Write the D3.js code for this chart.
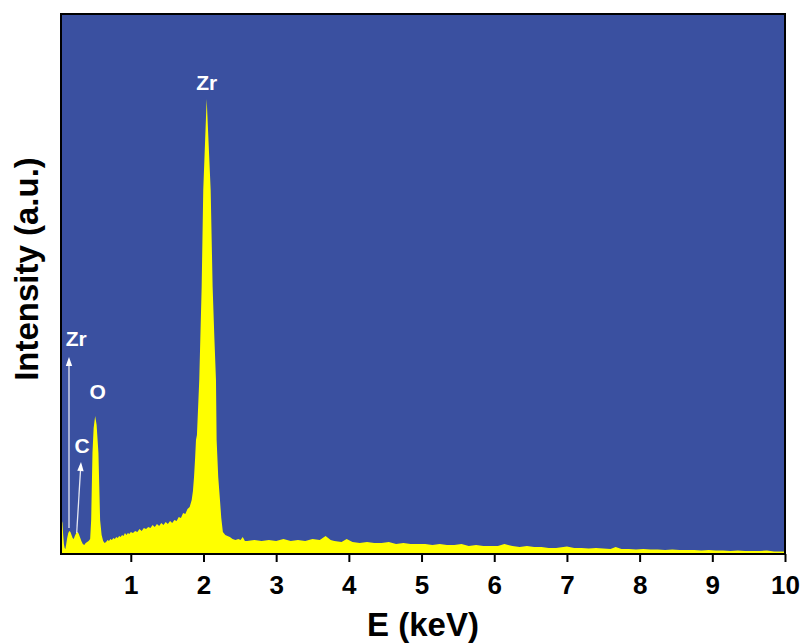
<!DOCTYPE html>
<html>
<head>
<meta charset="utf-8">
<script src="https://cdn.jsdelivr.net/npm/d3@7"></script>
<style>
  html, body { margin: 0; padding: 0; background: #ffffff; }
  svg { display: block; font-family: "Liberation Sans", Arial, sans-serif; }
</style>
</head>
<body>
<svg id="chart" width="804" height="644"></svg>
<script>
// ---- data ----
const energyKeV = [
  0.040,0.050,0.060,0.070,0.080,0.090,0.100,0.110,0.125,0.140,0.155,0.170,0.185,0.200,0.215,0.230,0.250,0.270,0.285,0.300,
  0.320,0.340,0.360,0.380,0.400,0.420,0.441,0.455,0.473,0.489,0.510,0.530,0.555,0.578,0.599,0.620,0.640,0.660,0.680,0.700,
  0.720,0.740,0.760,0.780,0.800,0.820,0.840,0.860,0.880,0.900,0.920,0.940,0.960,0.980,1.000,1.030,1.060,1.090,1.120,1.150,
  1.180,1.210,1.240,1.270,1.300,1.330,1.360,1.390,1.420,1.450,1.480,1.510,1.540,1.570,1.600,1.630,1.660,1.690,1.720,1.750,
  1.780,1.810,1.838,1.855,1.870,1.885,1.897,1.910,1.942,1.975,1.997,2.044,2.099,2.126,2.150,2.172,2.181,2.203,2.227,2.245,
  2.267,2.300,2.330,2.363,2.400,2.440,2.480,2.510,2.540,2.570,2.600,2.700,2.800,2.900,3.000,3.100,3.200,3.300,3.400,3.500,
  3.600,3.680,3.750,3.800,3.900,3.970,4.050,4.150,4.250,4.350,4.450,4.550,4.650,4.750,4.850,4.950,5.050,5.150,5.250,5.350,
  5.450,5.550,5.650,5.750,5.850,5.950,6.050,6.140,6.250,6.350,6.450,6.550,6.650,6.750,6.850,6.950,7.000,7.100,7.200,7.300,
  7.400,7.500,7.600,7.670,7.750,7.850,7.950,8.050,8.150,8.250,8.350,8.450,8.550,8.650,8.750,8.850,8.950,9.050,9.150,9.250,
  9.350,9.450,9.550,9.650,9.750,9.850,9.950,10.000
];
const intensity = [
  28,33,30,18,9,5,4,8,15,20,22,21,18,15,14,17,20,21,19,16,
  12,9,8,10,11,12,14,33,100,125,137,128,100,33,18,12,10,11,13,12,
  14,13,15,14,16,15,17,16,18,17,20,18,20,19,21,20,22,21,24,22,
  25,24,26,25,28,26,29,27,30,28,31,29,32,30,33,32,36,35,40,39,
  44,46,53,62,76,95,113,118,173,266,363,454,363,266,215,173,113,76,53,35,
  21,18,17,16,14,13,14,13,16,12,12,13,12,13,12,14,12,13,12,14,
  13,17,13,12,11,14,11,10,11,10,10,11,9,10,9,9,9,8,9,8,
  8,9,7,8,7,7,7,9,7,6,7,6,6,5,5,6,6.5,5,5,4.5,
  5,4.5,4,6,4,4,3.5,4,3.5,3.5,3,3.5,3,3,3,2.5,3,2.5,2.5,2,
  2.5,2,2,2,2.5,1.5,1.5,1.5
];
const tickValues = [1,2,3,4,5,6,7,8,9,10];
const tickLabels = ["1","2","3","4","5","6","7","8","9","10"];
const xDomain = [0.04, 10];
const yDomain = [0, 540];

// annotation labels: text, energy, intensity (label baseline)
const labelText   = ["Zr", "Zr", "O", "C"];
const labelEnergy = [2.044, 0.249, 0.543, 0.330];
const labelLevel  = [463, 207, 154, 100];
// arrows: from (energy, level) to tip (energy, level)
const arrowFromE = [0.150, 0.256];
const arrowFromI = [25, 20];
const arrowToE   = [0.150, 0.315];
const arrowToI   = [196, 91];

// ---- layout ----
const svg = d3.select("#chart");
const m = { left: 61, right: 785, top: 14, bottom: 553 };
const x = d3.scaleLinear().domain(xDomain).range([m.left, m.right]);
const y = d3.scaleLinear().domain(yDomain).range([m.bottom, m.top - 1]);

const bg = "#3a50a0";
const yellow = "#ffff00";

svg.append("defs").append("clipPath").attr("id", "clip")
  .append("rect").attr("x", m.left).attr("y", m.top)
  .attr("width", m.right - m.left).attr("height", m.bottom - m.top + 1);

svg.append("rect").attr("x", m.left).attr("y", m.top)
  .attr("width", m.right - m.left).attr("height", m.bottom - m.top + 1)
  .attr("fill", bg);

const pts = energyKeV.map((e, i) => [e, intensity[i]]);
const area = d3.area().x(d => x(d[0])).y0(y(0) + 1).y1(d => y(d[1]));
svg.append("path").datum(pts).attr("d", area)
  .attr("fill", yellow).attr("clip-path", "url(#clip)");

// arrows
const ag = svg.append("g");
arrowFromE.forEach((e, i) => {
  const x1 = x(e), y1 = y(arrowFromI[i]);
  const x2 = x(arrowToE[i]), y2 = y(arrowToI[i]);
  const ang = Math.atan2(y2 - y1, x2 - x1);
  const L = 9, W = 3.2;
  const bx = x2 - L * Math.cos(ang), by = y2 - L * Math.sin(ang);
  ag.append("line").attr("x1", x1).attr("y1", y1).attr("x2", bx).attr("y2", by)
    .attr("stroke", "#e6e8f2").attr("stroke-width", 1.3);
  const px = -Math.sin(ang) * W, py = Math.cos(ang) * W;
  ag.append("path")
    .attr("d", `M${x2},${y2}L${bx + px},${by + py}L${bx - px},${by - py}Z`)
    .attr("fill", "#ffffff");
});

// labels
labelText.forEach((t, i) => {
  svg.append("text").attr("x", x(labelEnergy[i])).attr("y", y(labelLevel[i]))
    .attr("text-anchor", "middle").attr("font-size", 21).attr("font-weight", "bold")
    .attr("fill", "#ffffff").text(t);
});

// frame
svg.append("rect").attr("x", m.left).attr("y", m.top)
  .attr("width", m.right - m.left).attr("height", m.bottom - m.top + 1)
  .attr("fill", "none").attr("stroke", "#000").attr("stroke-width", 2);

// x axis
const xAxis = d3.axisBottom(x).tickValues(tickValues)
  .tickFormat((d, i) => tickLabels[i]).tickSize(8).tickPadding(14);
const gx = svg.append("g").attr("transform", `translate(0,${m.bottom + 1})`).call(xAxis);
gx.select(".domain").remove();
gx.selectAll(".tick line").attr("stroke", "#000").attr("stroke-width", 2);
gx.selectAll(".tick text").attr("font-size", 26).attr("font-weight", "bold")
  .attr("fill", "#000").attr("font-family", "'Liberation Sans', Arial, sans-serif");

// axis titles
svg.append("text").attr("x", (m.left + m.right) / 2).attr("y", 636)
  .attr("text-anchor", "middle").attr("font-size", 33).attr("font-weight", "bold")
  .attr("fill", "#000").text("E (keV)");
svg.append("text").attr("transform", `translate(38,${269}) rotate(-90)`)
  .attr("text-anchor", "middle").attr("font-size", 33).attr("font-weight", "bold")
  .attr("fill", "#000").text("Intensity (a.u.)");
</script>
</body>
</html>
